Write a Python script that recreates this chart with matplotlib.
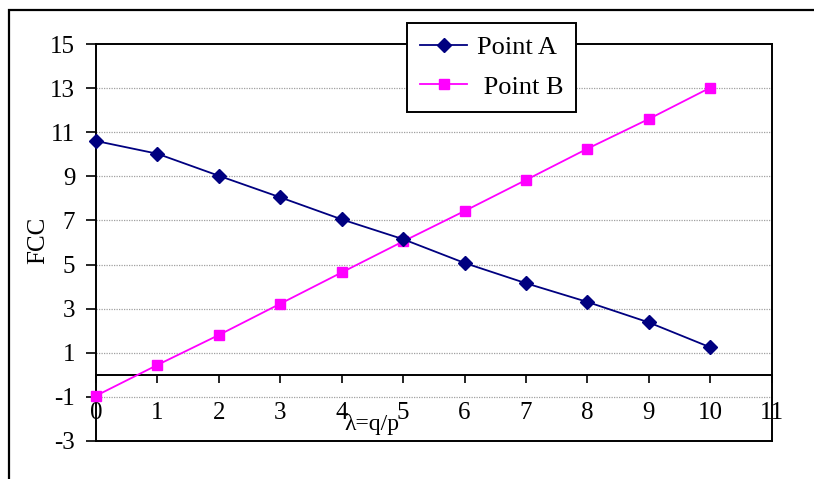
import matplotlib
matplotlib.use("Agg")
import matplotlib.pyplot as plt
from matplotlib.patches import Rectangle
from matplotlib.lines import Line2D

plt.rcParams['font.family'] = ['Liberation Serif', 'DejaVu Serif']

x_vals = [0, 1, 2, 3, 4, 5, 6, 7, 8, 9, 10]
point_a = [10.61, 10.03, 9.03, 8.05, 7.05, 6.15, 5.07, 4.15, 3.30, 2.37, 1.24]
point_b = [-0.96, 0.44, 1.80, 3.22, 4.64, 6.05, 7.43, 8.84, 10.26, 11.61, 13.03]
x_ticks = list(range(0, 12))
y_ticks = [-3, -1, 1, 3, 5, 7, 9, 11, 13, 15]
labels = ["Point A", " Point B"]

W, H = 814, 479
fig = plt.figure(figsize=(W / 100, H / 100), dpi=100)

# outer chart frame
fig.patches.append(Rectangle((9 / W, -0.1), 1.2, 1 - 10 / H + 0.1,
                             transform=fig.transFigure, fill=False,
                             edgecolor='black', linewidth=1.6))

ax = fig.add_axes([96 / W, 1 - 440.7 / H, (771.7 - 96) / W, (440.7 - 44.3) / H])

ax.plot(x_vals, point_a, color='#000080', marker='D', markersize=6.8,
        linewidth=1.3, label=labels[0], clip_on=False, zorder=5)
ax.plot(x_vals, point_b, color='#FF00FF', marker='s', markersize=7.2,
        linewidth=1.3, label=labels[1], clip_on=False, zorder=4)

ax.set_xlim(0, 11)
ax.set_ylim(-3, 15)
ax.set_xticks(x_ticks)
ax.set_yticks(y_ticks)
ax.set_xticklabels([str(v) for v in x_ticks])
ax.set_yticklabels([str(v) for v in y_ticks])

for yv in y_ticks:
    if -3 < yv < 15:
        ax.axhline(yv, color='#a0a0a0', linestyle=(0, (1, 1)), linewidth=0.9, zorder=1)

for s in ['left', 'right', 'top', 'bottom']:
    ax.spines[s].set_linewidth(1.4)
    ax.spines[s].set_color('black')
ax.spines['bottom'].set_position(('data', 0))
# bottom border of plot area
ax.add_line(Line2D([0, 1], [0, 0], transform=ax.transAxes, color='black',
                   linewidth=1.4, clip_on=False))

ax.tick_params(axis='y', direction='out', length=7, width=1.2, pad=8,
               labelsize=18, colors='black')
ax.tick_params(axis='x', direction='out', length=6, width=1.2, pad=14,
               labelsize=18, colors='black')

fig.text(38 / W, 1 - 240 / H, "FCC", rotation=90, ha='center', va='center',
         fontsize=18)
fig.text(371.5 / W, 1 - 430 / H, "λ=q/p", ha='center', va='baseline',
         fontsize=17)

leg = ax.legend(loc='center', bbox_to_anchor=(491.4 / W, 1 - 67.2 / H),
                bbox_transform=fig.transFigure, fontsize=19, frameon=True,
                fancybox=False, edgecolor='black', framealpha=1,
                handlelength=1.8, handletextpad=0.35, labelspacing=0.6,
                borderpad=0.5)
leg.get_frame().set_linewidth(1.4)
leg.set_zorder(10)

fig.savefig("out.png", dpi=100)
